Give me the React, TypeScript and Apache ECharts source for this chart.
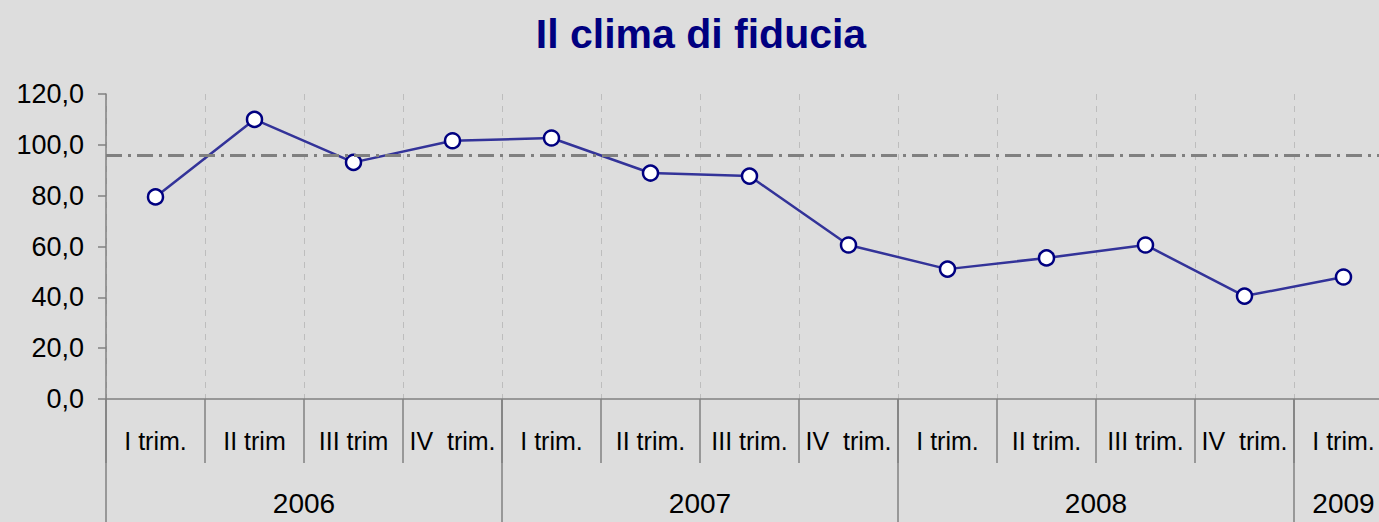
import React, { useEffect, useRef } from "react";
import * as echarts from "echarts";

const categories = [
  "I trim.", "II trim", "III trim", "IV  trim.",
  "I trim.", "II trim.", "III trim.", "IV  trim.",
  "I trim.", "II trim.", "III trim.", "IV  trim.",
  "I trim.",
];
const values = [79.5, 110.0, 93.1, 101.6, 102.7, 88.9, 87.7, 60.6, 51.1, 55.5, 60.6, 40.5, 48.0];
const referenceValue = 96.0;
const years = ["2006", "2007", "2008", "2009"];
const yearSpans = [4, 4, 4, 1];
const yTicks = { min: 0, max: 120, interval: 20 };
const title = "Il clima di fiducia";

export default function App() {
  const ref = useRef<HTMLDivElement>(null);
  useEffect(() => {
    if (!ref.current) return;
    const chart = echarts.init(ref.current, null, { renderer: "svg" });
    const yearBounds: number[] = [];
    const yearCenters: number[] = [];
    let acc = 0;
    yearSpans.forEach((s) => {
      yearBounds.push(acc);
      yearCenters.push(acc + s / 2);
      acc += s;
    });
    const total = categories.length;
    const font = "'Liberation Sans', Arial, sans-serif";
    chart.setOption({
      animation: false,
      backgroundColor: "#dddddd",
      title: {
        text: title,
        left: "center",
        top: 8,
        textStyle: { fontFamily: font, fontSize: 41, fontWeight: "bold", color: "#000080" },
      },
      grid: { left: 106, top: 94, bottom: 123, right: 9, containLabel: false },
      xAxis: [
        {
          type: "category",
          data: categories,
          boundaryGap: true,
          position: "bottom",
          axisLine: { show: true, lineStyle: { color: "#808080", width: 1.5 } },
          axisTick: { show: true, interval: 0, length: 64, lineStyle: { color: "#808080", width: 1.5 } },
          axisLabel: {
            interval: 0,
            margin: 29,
            color: "#000",
            fontFamily: font,
            fontSize: 25,
          },
          splitLine: { show: true, interval: 0, lineStyle: { color: "#bdbdbd", type: [6, 6], width: 1 } },
        },
        {
          type: "value",
          min: 0,
          max: total,
          position: "bottom",
          axisLine: { show: false },
          axisTick: {
            show: true,
            customValues: yearBounds,
            length: 123,
            lineStyle: { color: "#808080", width: 1.5 },
          },
          axisLabel: {
            customValues: yearCenters,
            margin: 90,
            color: "#000",
            fontFamily: font,
            fontSize: 28,
            formatter: (v: number) => {
              const i = yearCenters.findIndex((c) => Math.abs(c - v) < 1e-6);
              return i >= 0 ? years[i] : "";
            },
          },
          splitLine: { show: false },
        },
      ],
      yAxis: {
        type: "value",
        min: yTicks.min,
        max: yTicks.max,
        interval: yTicks.interval,
        axisLine: { show: true, lineStyle: { color: "#808080", width: 1.5 } },
        axisTick: { show: true, length: 8, lineStyle: { color: "#808080", width: 1.5 } },
        axisLabel: {
          margin: 22,
          color: "#000",
          fontFamily: font,
          fontSize: 27,
          formatter: (v: number) => v.toFixed(1).replace(".", ","),
        },
        splitLine: { show: false },
      },
      series: [
        {
          type: "line",
          xAxisIndex: 0,
          data: values,
          lineStyle: { color: "#333399", width: 2.5 },
          symbol: "circle",
          symbolSize: 15,
          itemStyle: { color: "#ffffff", borderColor: "#000080", borderWidth: 2.5 },
          markLine: {
            silent: true,
            symbol: ["none", "none"],
            label: { show: false },
            lineStyle: { color: "#808080", width: 3, type: [16, 6, 3, 6] },
            data: [{ yAxis: referenceValue }],
          },
          z: 3,
        },
      ],
    });
    return () => chart.dispose();
  }, []);
  return (
    <div style={{ position: "fixed", left: 0, top: 0, width: 1379, height: 522, overflow: "hidden" }}>
      <div ref={ref} style={{ width: 1402, height: 522 }} />
    </div>
  );
}
